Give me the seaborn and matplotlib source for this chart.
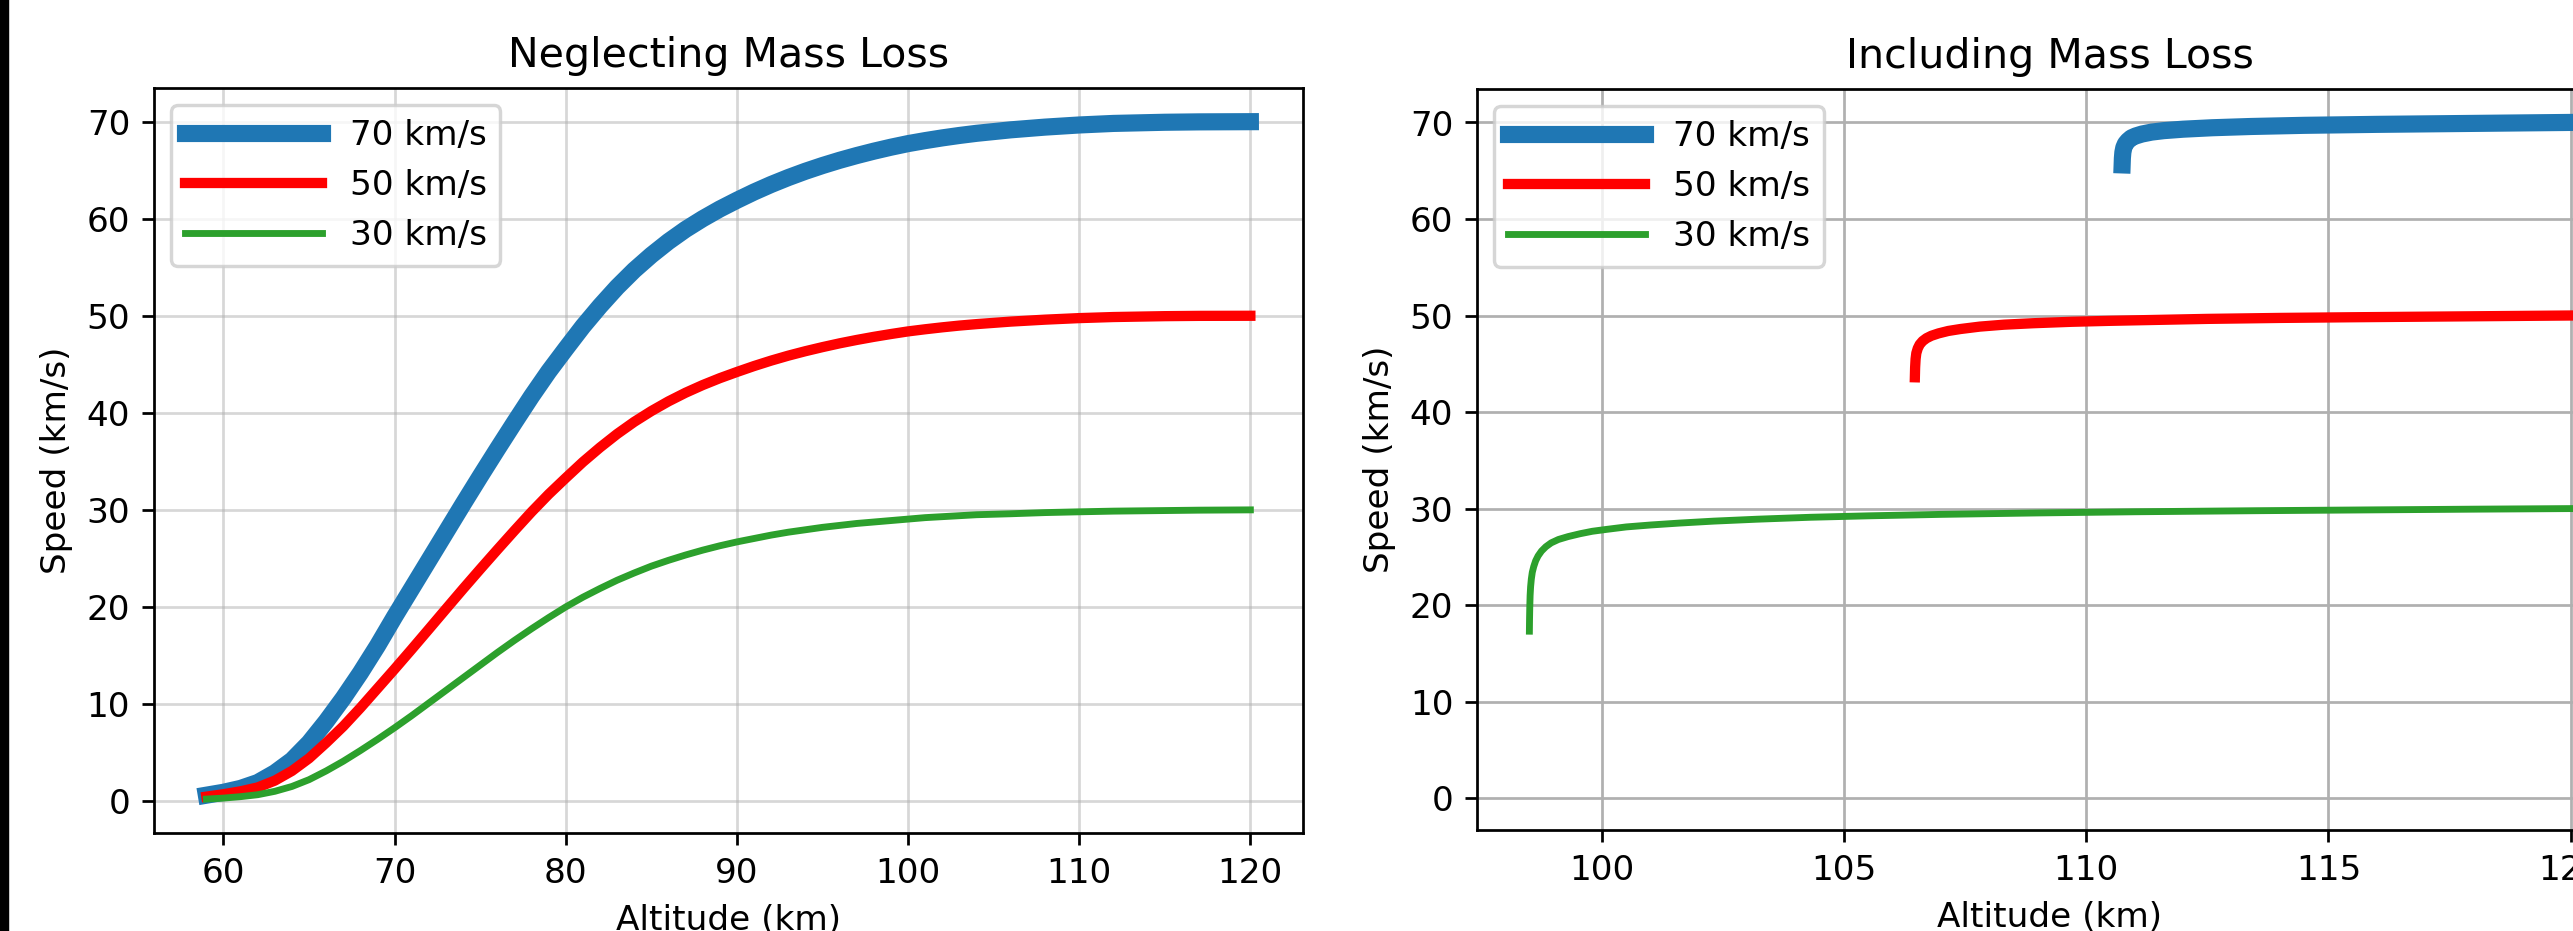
import matplotlib
matplotlib.use('Agg')
import matplotlib.pyplot as plt
from matplotlib.patches import Rectangle
import seaborn as sns


# speed vs altitude

# left panel: neglecting mass loss
alt_left = [59, 60, 61, 62, 63, 64, 65, 66, 67, 68, 69, 70, 71, 72, 73, 74, 75, 76, 77, 78,
            79, 80, 81, 82, 83, 84, 85, 86, 87, 88, 89, 90, 91, 92, 93, 94, 95, 96, 97, 98,
            99, 100, 101, 102, 103, 104, 106, 108, 110, 112, 115, 117, 120]
v70_left = [0.6, 0.9, 1.3, 1.9, 2.9, 4.2, 6.0, 8.2, 10.6, 13.2, 16.0, 19.0, 21.9, 24.8, 27.7,
            30.6, 33.45, 36.25, 39.0, 41.7, 44.25, 46.6, 48.9, 51.0, 52.95, 54.7, 56.25, 57.65,
            58.9, 60.0, 61.0, 61.9, 62.75, 63.53, 64.24, 64.89, 65.48, 66.02, 66.51, 66.96,
            67.37, 67.74, 68.05, 68.33, 68.58, 68.8, 69.16, 69.44, 69.66, 69.82, 69.94, 69.98, 70.0]
v50_left = [0.45, 0.7, 1.0, 1.4, 2.1, 3.1, 4.4, 6.0, 7.7, 9.6, 11.6, 13.6, 15.64, 17.71, 19.79,
            21.86, 23.89, 25.89, 27.86, 29.79, 31.61, 33.29, 34.93, 36.43, 37.82, 39.07, 40.18,
            41.18, 42.07, 42.86, 43.57, 44.21, 44.82, 45.38, 45.89, 46.35, 46.77, 47.16, 47.51,
            47.83, 48.12, 48.39, 48.61, 48.81, 48.99, 49.14, 49.4, 49.6, 49.76, 49.87, 49.96,
            49.99, 50.0]
v30_left = [0.2, 0.3, 0.45, 0.65, 1.0, 1.5, 2.2, 3.1, 4.1, 5.2, 6.35, 7.55, 8.8, 10.1, 11.4,
            12.7, 14.0, 15.3, 16.55, 17.75, 18.9, 20.0, 21.0, 21.9, 22.75, 23.5, 24.2, 24.8,
            25.35, 25.85, 26.3, 26.7, 27.05, 27.4, 27.7, 27.95, 28.2, 28.4, 28.6, 28.75, 28.9,
            29.05, 29.2, 29.3, 29.4, 29.5, 29.6, 29.72, 29.8, 29.87, 29.93, 29.97, 30.0]

# right panel: including mass loss
alt70_right = [110.74, 110.745, 110.755, 110.775, 110.81, 110.86, 110.93, 111.02, 111.15,
               111.35, 111.6, 112.0, 112.6, 113.4, 114.5, 116.0, 118.0, 120.0]
v70_right = [65.6, 66.3, 66.9, 67.4, 67.8, 68.1, 68.4, 68.6, 68.8, 69.0, 69.15, 69.3, 69.45,
             69.58, 69.7, 69.8, 69.9, 70.0]

alt50_right = [106.46, 106.465, 106.475, 106.49, 106.52, 106.56, 106.62, 106.7, 106.8, 106.95,
               107.15, 107.4, 107.8, 108.3, 108.9, 109.7, 110.5, 111.5, 112.5, 114.0, 115.5,
               117.5, 120.0]
v50_right = [43.6, 44.6, 45.5, 46.1, 46.6, 47.0, 47.35, 47.65, 47.9, 48.15, 48.4, 48.6, 48.85,
             49.05, 49.2, 49.35, 49.45, 49.55, 49.65, 49.75, 49.82, 49.9, 50.0]

alt30_right = [98.50, 98.503, 98.508, 98.515, 98.525, 98.54, 98.56, 98.59, 98.63, 98.68, 98.75,
               98.84, 98.95, 99.1, 99.3, 99.55, 99.8, 100.1, 100.5, 101.0, 101.6, 102.3, 103.2,
               104.3, 105.5, 107.0, 109.0, 111.0, 113.5, 116.0, 118.0, 120.0]
v30_right = [17.3, 18.5, 19.8, 21.0, 21.9, 22.7, 23.4, 24.0, 24.6, 25.1, 25.6, 26.05, 26.45,
             26.8, 27.1, 27.4, 27.65, 27.85, 28.1, 28.3, 28.5, 28.7, 28.9, 29.1, 29.25, 29.4,
             29.55, 29.67, 29.78, 29.87, 29.94, 30.0]

labels = ['70 km/s', '50 km/s', '30 km/s']
colors = ['tab:blue', 'red', 'tab:green']
widths = [5, 3, 2]


fig = plt.figure(figsize=(10.42, 3.77), dpi=247)
ax1 = fig.add_axes([0.0599, 0.1053, 0.4462, 0.8002])
ax2 = fig.add_axes([0.574, 0.1085, 0.445, 0.796])

left = [v70_left, v50_left, v30_left]
for v, lab, c, w in zip(left, labels, colors, widths):
    sns.lineplot(x=alt_left, y=v, ax=ax1, color=c, linewidth=w, label=lab,
                 sort=False, estimator=None)

right = [(alt70_right, v70_right), (alt50_right, v50_right), (alt30_right, v30_right)]
for (a, v), lab, c, w in zip(right, labels, colors, widths):
    sns.lineplot(x=a, y=v, ax=ax2, color=c, linewidth=w, label=lab,
                 sort=False, estimator=None)

ax1.set_title('Neglecting Mass Loss')
ax2.set_title('Including Mass Loss')
for ax in [ax1, ax2]:
    ax.set_xlabel('Altitude (km)')
    ax.set_ylabel('Speed (km/s)')
    ax.legend(loc='upper left', handlelength=4)

ax2.set_ylim(ax1.get_ylim())
ax1.grid(True, alpha=0.5)
ax2.grid(True)

# dark strip on the left edge of the screenshot
fig.patches.append(Rectangle((0, 0), 7 / 2573, 1, transform=fig.transFigure,
                             color='black', zorder=10))

plt.savefig('out.png', dpi=247)
